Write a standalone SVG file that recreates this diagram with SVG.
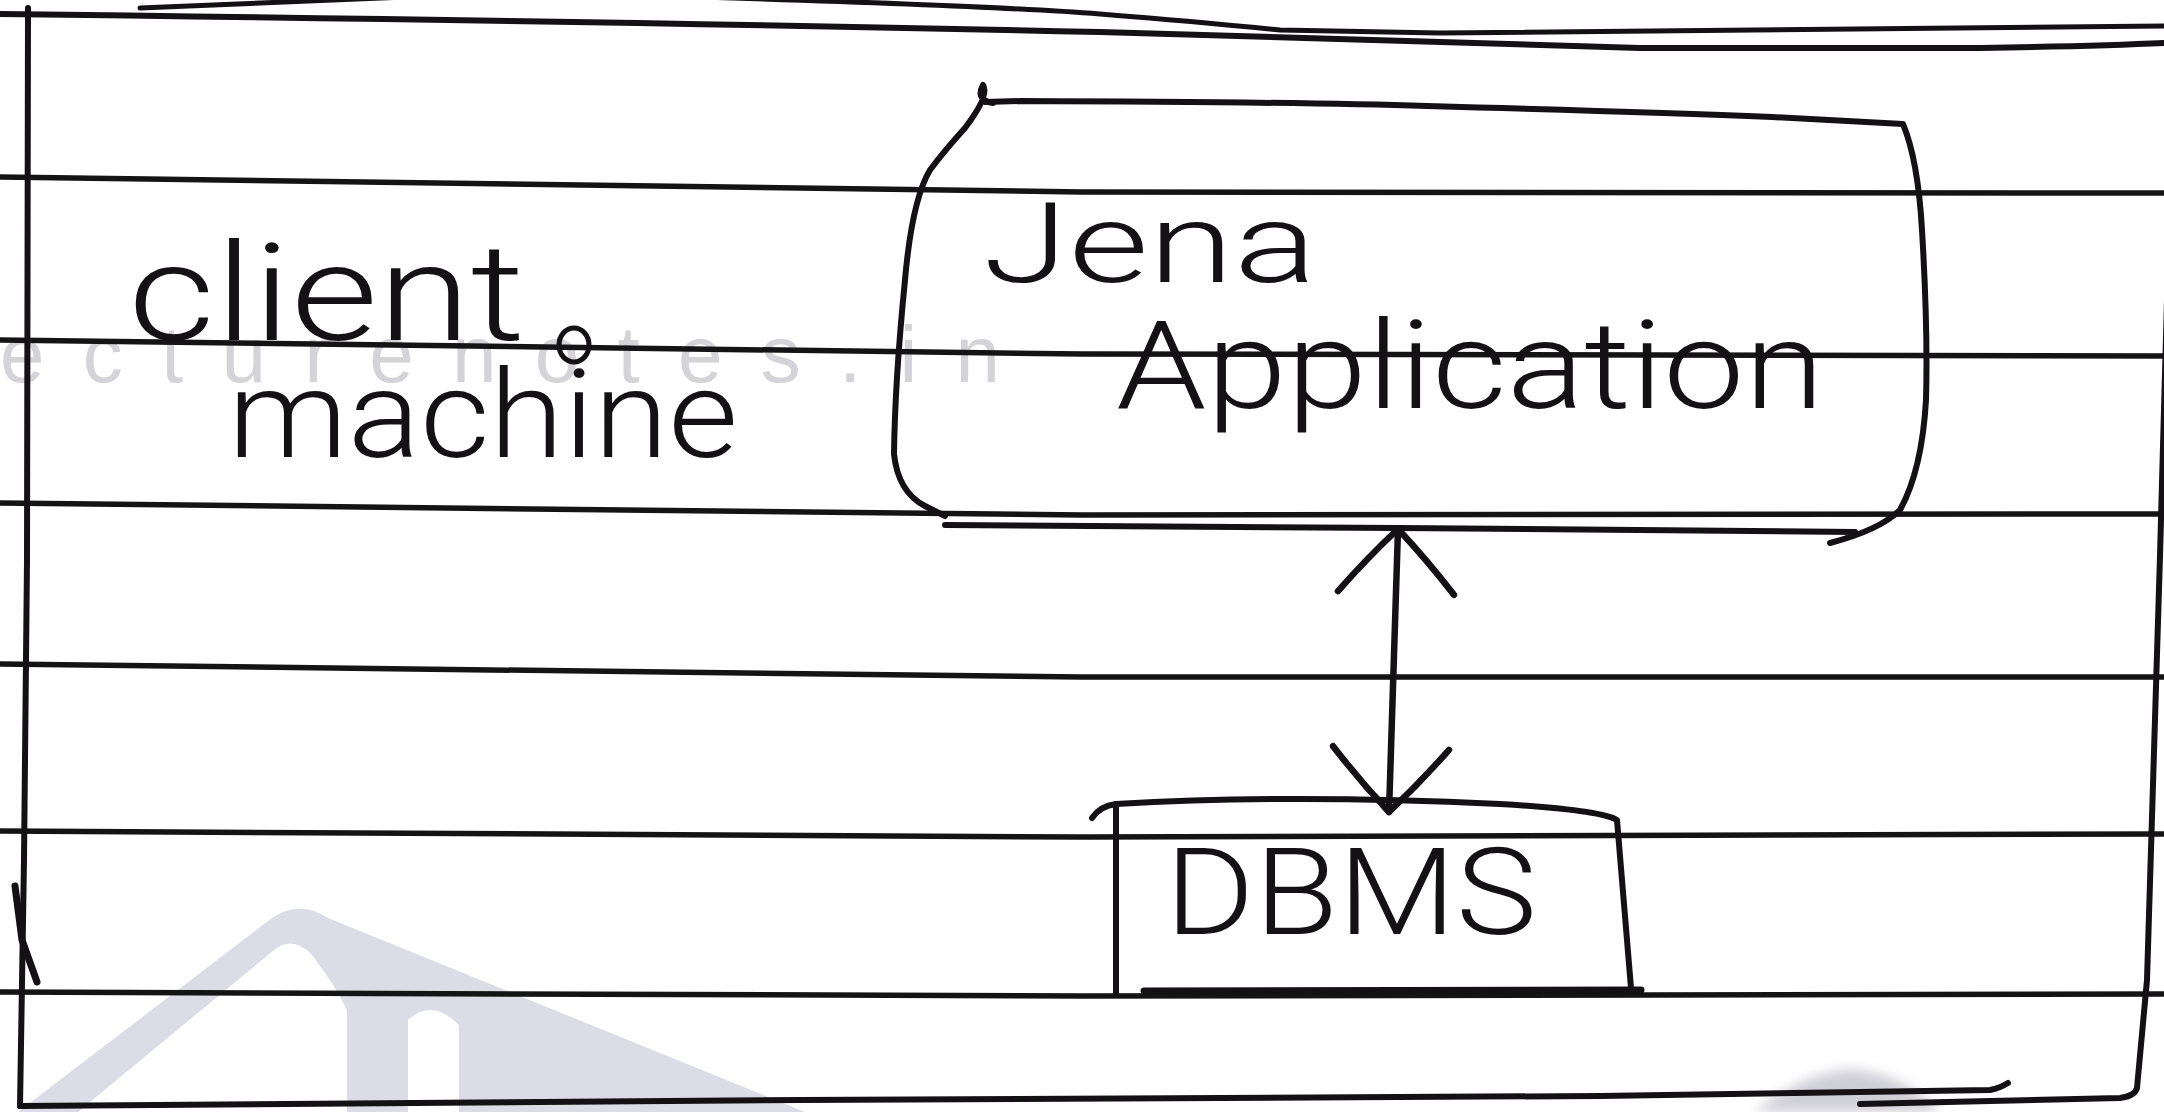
<svg xmlns="http://www.w3.org/2000/svg" width="2164" height="1112" viewBox="0 0 2164 1112">
  <defs>
    <style>
      .ink { fill: none; stroke: #141114; stroke-linecap: round; stroke-linejoin: round; }
      .rule { fill: none; stroke: #141414; stroke-width: 5.5; }
      .hand { font-family: Roboto, "Liberation Sans", sans-serif; font-weight: 300; fill: #141114; }
      .wm { font-family: "Liberation Sans", Arial, sans-serif; fill: #d3d3d8; }
    </style>
    <marker id="head" markerUnits="userSpaceOnUse" markerWidth="140" markerHeight="140" viewBox="-80 -70 100 140" refX="0" refY="0" orient="auto-start-reverse" overflow="visible">
      <path d="M -64,-58 Q -30,-30 0,0 Q -30,30 -64,58" fill="none" stroke="#141114" stroke-width="6.5" stroke-linecap="round" stroke-linejoin="round"/>
    </marker>
    <filter id="soft" x="-20%" y="-20%" width="140%" height="140%">
      <feGaussianBlur stdDeviation="6"/>
    </filter>
  </defs>

  <rect width="2164" height="1112" fill="#ffffff"/>

  <!-- faint site watermark -->
  <g id="watermark">
    <text class="wm" x="0" y="382" font-size="80" textLength="1000" lengthAdjust="spacing">ecturenotes.in</text>
    <path d="M 18,1112 L 268,921 Q 297,898 328,918 L 805,1112 Z M 78,1112 L 274,950 Q 293,935 312,955 Q 335,985 347,1010 L 347,1112 Z M 408,1112 L 408,1020 Q 432,998 459,1025 L 459,1112 Z" fill="#dcdce6" fill-rule="evenodd"/>
    <path d="M 1755,1112 Q 1800,1074 1850,1069 Q 1905,1074 1940,1112 Z" fill="#cfcfd6" filter="url(#soft)"/>
  </g>

  <!-- ruled notebook lines -->
  <g id="paper">
    <path class="rule" d="M 0,177 L 1082,192 L 2164,193"/>
    <path class="rule" d="M 0,340 L 1082,354 L 2164,356"/>
    <path class="rule" d="M 0,503 L 1082,515 L 2164,514"/>
    <path class="rule" d="M 0,664 L 1082,677 L 2164,677"/>
    <path class="rule" d="M 0,831 L 1082,837 L 2164,834"/>
    <path class="rule" d="M 0,992 L 1082,996 L 2164,994"/>
  </g>

  <!-- outer frame: the client machine -->
  <g id="client-machine">
    <path class="ink" stroke-width="6" d="M 0,14 Q 600,21 1100,32 Q 1400,40 1640,48 L 1980,48 Q 2100,46 2164,43"/>
    <path class="ink" stroke-width="5" d="M 140,8 Q 300,1 430,-4 M 700,-3 Q 1000,6 1100,14 Q 1200,22 1280,30 L 1440,33 L 2164,26"/>
    <path class="ink" stroke-width="6" d="M 28,8 L 27,560 L 24,860 L 20,1106"/>
    <path class="ink" stroke-width="7" stroke="#2a1727" d="M 15,886 L 22,940 L 37,982"/>
    <path class="ink" stroke-width="6" d="M 20,1106 L 800,1100 L 1600,1096 L 1990,1090 Q 2000,1088 2008,1083"/>
    <path class="ink" stroke-width="6" d="M 1860,1104 L 2120,1098 Q 2135,1096 2137,1088 L 2147,980 L 2160,556 L 2167,300"/>
    <text class="hand" x="128" y="340" font-size="135" textLength="397" lengthAdjust="spacingAndGlyphs">client</text>
    <ellipse class="ink" stroke-width="5" cx="574" cy="345" rx="15" ry="17"/>
    <text class="hand" x="228" y="457" font-size="122" textLength="510" lengthAdjust="spacingAndGlyphs">machine</text>
  </g>

  <!-- Jena application box -->
  <g id="jena-application">
    <path class="ink" stroke-width="6" d="M 993,103 Q 975,100 983,85 Q 990,95 965,128 Q 945,150 930,170 Q 912,200 905,280 Q 895,380 894,454 Q 898,492 925,506 L 945,516"/>
    <path class="ink" stroke-width="6" d="M 985,102 L 1021,101 Q 1300,102 1427,106 Q 1650,112 1772,117 L 1903,124 Q 1918,160 1922,230 Q 1928,330 1926,400 Q 1922,470 1900,510 Q 1880,530 1830,543"/>
    <path class="ink" stroke-width="6" d="M 945,525 L 1400,528 L 1855,532"/>
    <text class="hand" x="983" y="282" font-size="112" textLength="334" lengthAdjust="spacingAndGlyphs">Jena</text>
    <text class="hand" x="1116" y="408" font-size="122" textLength="708" lengthAdjust="spacingAndGlyphs">Application</text>
  </g>

  <!-- DBMS box -->
  <g id="dbms">
    <path class="ink" stroke-width="6" d="M 1092,818 Q 1100,806 1116,804 Q 1290,794 1500,804 Q 1600,810 1617,820 L 1631,988"/>
    <path class="ink" stroke-width="6" d="M 1116,804 L 1116,994"/>
    <path class="ink" stroke-width="7" d="M 1144,991 L 1641,990"/>
    <text class="hand" x="1165" y="934" font-size="121" textLength="372" lengthAdjust="spacingAndGlyphs">DBMS</text>
  </g>

  <!-- connectors -->
  <g id="connectors">
    <path class="ink" stroke-width="6.5" d="M 1398,529 L 1389,812" marker-start="url(#head)" marker-end="url(#head)"/>
  </g>
</svg>
